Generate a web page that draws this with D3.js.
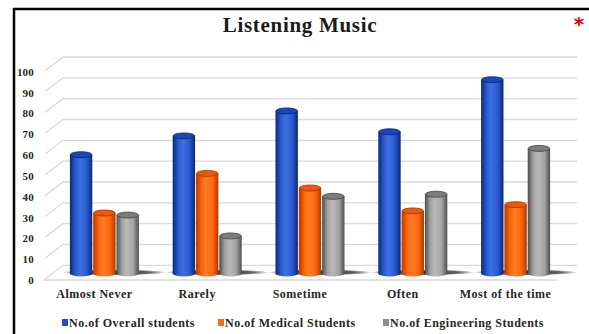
<!DOCTYPE html>
<html lang="en">
<head>
    <meta charset="UTF-8">
    <title>Listening Music</title>
</head>
<body style="margin:0;background:#fff;">
<style>
    text {
        font-family: "Liberation Serif", "Times New Roman", serif;
        font-weight: bold;
    }
    .grid {
        stroke: #d9d9d9;
        stroke-width: 1.3;
        fill: none;
    }
</style>
<svg width="589" height="334"></svg>
<script src="https://cdn.jsdelivr.net/npm/d3@7"></script>
<script>

    var categories = ["Almost Never", "Rarely", "Sometime", "Often", "Most of the time"];
    var seriesNames = ["No.of Overall students", "No.of Medical Students", "No.of Engineering Students"];
    var overall = [57, 66, 78, 68, 93];
    var medical = [29, 48, 41, 30, 33];
    var engineering = [28, 18, 37, 38, 60];
    var yTicks = [0, 10, 20, 30, 40, 50, 60, 70, 80, 90, 100];

    var series = [overall, medical, engineering];
    var colors = [
        {dark: "#0b2878", mid: "#2a5ad0", light: "#3f70e0", top: "#1c47b8", rim: "#0a2466", key: "#1f4fc0"},
        {dark: "#b23a00", mid: "#ff6608", light: "#ff7d2a", top: "#e85a08", rim: "#9a3300", key: "#ff6a10"},
        {dark: "#4e4e4e", mid: "#a4a4a4", light: "#b8b8b8", top: "#7c7c7c", rim: "#444", key: "#8c8c8c"}
    ];

    var svg = d3.select("svg");

    // depth offsets of the 3d floor / back wall
    var depthX = 20, depthY = -14.7;
    var barShiftX = 10, barShiftY = -6.6;

    var xScale = d3.scaleBand().domain(categories).range([43, 557]);
    var yScale = d3.scaleLinear().domain([0, 100]).range([280, 71.7]);
    var xInner = d3.scaleBand().domain([0, 1, 2]).range([0, 69]).paddingInner(0.04);

    var defs = svg.append("defs");
    colors.forEach(function(c, i) {
        var g = defs.append("linearGradient").attr("id", "body" + i)
            .attr("x1", "0%").attr("x2", "100%").attr("y1", "0%").attr("y2", "0%");
        g.append("stop").attr("offset", "0%").attr("stop-color", c.dark);
        g.append("stop").attr("offset", "25%").attr("stop-color", c.mid);
        g.append("stop").attr("offset", "45%").attr("stop-color", c.light);
        g.append("stop").attr("offset", "75%").attr("stop-color", c.mid);
        g.append("stop").attr("offset", "100%").attr("stop-color", c.dark);
    });
    var sh = defs.append("radialGradient").attr("id", "shadow");
    sh.append("stop").attr("offset", "0%").attr("stop-color", "#000").attr("stop-opacity", 0.9);
    sh.append("stop").attr("offset", "70%").attr("stop-color", "#000").attr("stop-opacity", 0.6);
    sh.append("stop").attr("offset", "100%").attr("stop-color", "#000").attr("stop-opacity", 0);

    // frame
    svg.append("line").attr("x1", 14).attr("x2", 14).attr("y1", 8).attr("y2", 334)
        .attr("stroke", "#000").attr("stroke-width", 2.5);
    svg.append("line").attr("x1", 13).attr("x2", 589).attr("y1", 9).attr("y2", 9)
        .attr("stroke", "#000").attr("stroke-width", 2.5);

    svg.append("text")
        .attr("x", 300).attr("y", 32)
        .attr("text-anchor", "middle")
        .attr("font-size", 21)
        .attr("letter-spacing", 0.7)
        .attr("fill", "#1a1a1a")
        .text("Listening Music");

    svg.append("text")
        .attr("x", 579).attr("y", 31)
        .attr("text-anchor", "middle")
        .attr("font-size", 20)
        .attr("fill", "#e00000")
        .style("font-family", "DejaVu Sans")
        .text("*");

    // gridlines: diagonal on the side wall + horizontal on the back wall
    var x0 = xScale.range()[0], x1 = xScale.range()[1];
    svg.selectAll(".grid")
        .data(yTicks)
        .enter()
        .append("path")
        .attr("class", "grid")
        .attr("d", function(d) {
            var y = yScale(d);
            return "M" + (x0 + 2) + "," + (y - 1) + "L" + (x0 + depthX) + "," + (y + depthY) +
                "L" + (x1 + depthX) + "," + (y + depthY);
        });
    // front floor edge
    svg.append("line").attr("class", "grid")
        .attr("x1", x0).attr("x2", x1)
        .attr("y1", yScale(0)).attr("y2", yScale(0));

    svg.selectAll(".ytick")
        .data(yTicks)
        .enter()
        .append("text")
        .attr("class", "ytick")
        .attr("x", 34)
        .attr("y", function(d) { return yScale(d) + 4; })
        .attr("text-anchor", "end")
        .attr("font-size", 11)
        .attr("letter-spacing", 0.2)
        .attr("fill", "#262626")
        .text(function(d) { return d; });

    // floor shadows
    svg.selectAll(".shadow")
        .data(categories)
        .enter()
        .append("ellipse")
        .attr("class", "shadow")
        .attr("cx", function(d) { return xScale(d) + xScale.bandwidth() / 2 + barShiftX + 10; })
        .attr("cy", yScale(0) + barShiftY - 1)
        .attr("rx", 52)
        .attr("ry", 3)
        .attr("fill", "url(#shadow)");

    // cylinders
    var rows = [];
    categories.forEach(function(c, ci) {
        series.forEach(function(s, si) {
            rows.push({cat: c, s: si, v: s[ci]});
        });
    });

    var bars = svg.selectAll(".bar")
        .data(rows)
        .enter()
        .append("g")
        .attr("class", "bar");

    function bx(d) {
        return xScale(d.cat) + xScale.bandwidth() / 2 + barShiftX - xInner.range()[1] / 2 + xInner(d.s);
    }
    var bw = xInner.bandwidth(), ry = 3;

    bars.append("path")
        .attr("d", function(d) {
            var l = bx(d), r = l + bw, top = yScale(d.v) + barShiftY, base = yScale(0) + barShiftY;
            return "M" + l + "," + top + "L" + l + "," + base +
                "A" + (bw / 2) + "," + ry + " 0 0 0 " + r + "," + base +
                "L" + r + "," + top + "Z";
        })
        .attr("fill", function(d) { return "url(#body" + d.s + ")"; });

    bars.append("ellipse")
        .attr("cx", function(d) { return bx(d) + bw / 2; })
        .attr("cy", function(d) { return yScale(d.v) + barShiftY; })
        .attr("rx", bw / 2 - 0.4)
        .attr("ry", ry)
        .attr("fill", function(d) { return colors[d.s].top; })
        .attr("stroke", function(d) { return colors[d.s].rim; })
        .attr("stroke-width", 0.8);

    // category labels on the front edge
    svg.selectAll(".xlabel")
        .data(categories)
        .enter()
        .append("text")
        .attr("class", "xlabel")
        .attr("x", function(d) { return xScale(d) + xScale.bandwidth() / 2; })
        .attr("y", 298)
        .attr("text-anchor", "middle")
        .attr("font-size", 12)
        .attr("letter-spacing", 0.5)
        .attr("fill", "#262626")
        .text(function(d) { return d; });

    // legend
    var legendPos = [62, 218, 383];
    var legend = svg.selectAll(".legend")
        .data(seriesNames)
        .enter()
        .append("g")
        .attr("class", "legend")
        .attr("transform", function(d, i) { return "translate(" + legendPos[i] + ",323)"; });
    legend.append("rect")
        .attr("x", 0).attr("y", -4)
        .attr("width", 6).attr("height", 7)
        .attr("fill", function(d, i) { return colors[i].key; });
    legend.append("text")
        .attr("x", 7).attr("y", 4)
        .attr("font-size", 12)
        .attr("letter-spacing", 0.5)
        .attr("fill", "#262626")
        .text(function(d) { return d; });
</script>
</body>
</html>
